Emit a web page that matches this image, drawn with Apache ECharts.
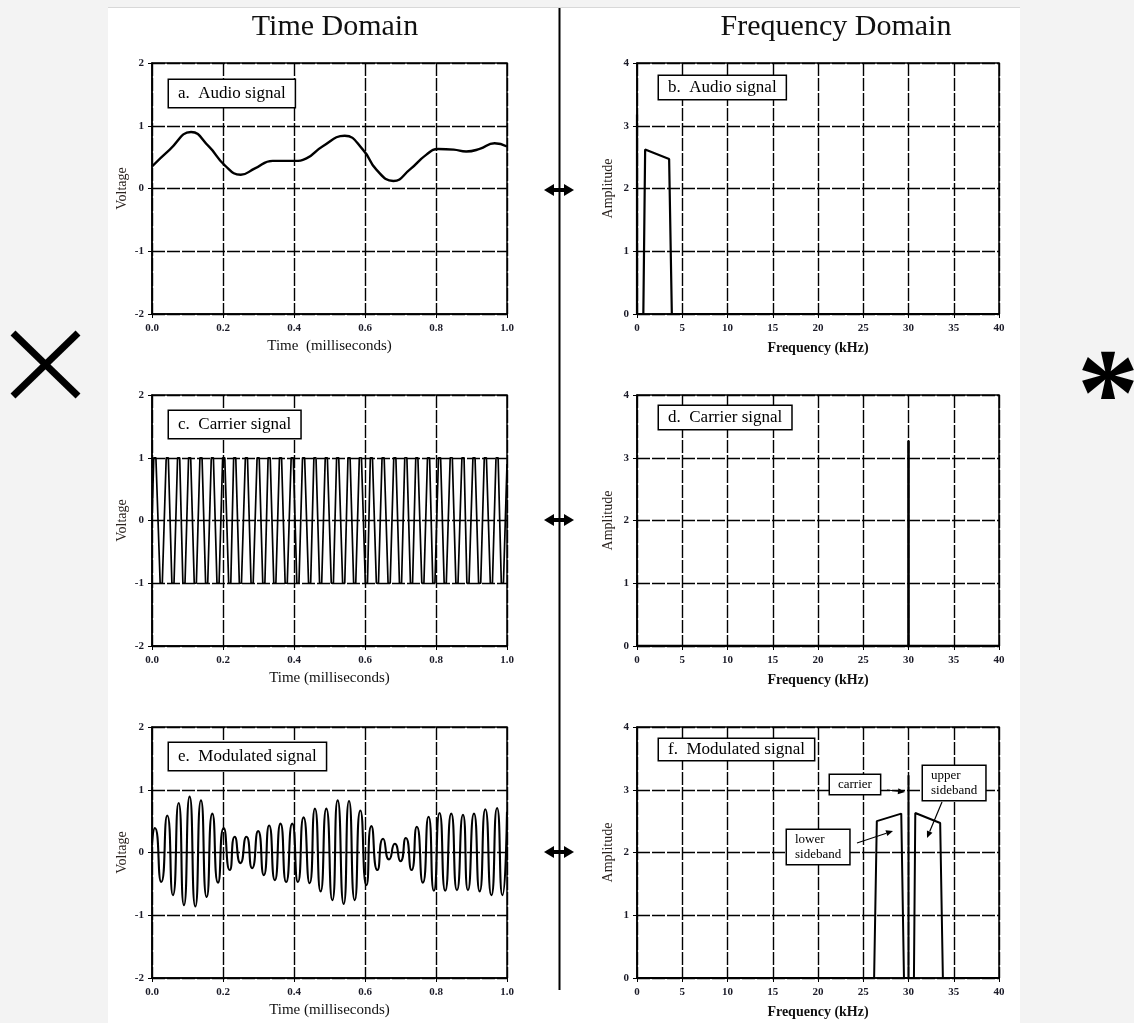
<!DOCTYPE html>
<html>
<head>
<meta charset="utf-8">
<script src="https://cdn.jsdelivr.net/npm/echarts@6/dist/echarts.min.js"></script>
<style>
  html, body { margin: 0; padding: 0; background: #f3f3f3; }
  #panel { position: absolute; left: 108px; top: 7px; width: 912px; height: 1016px; background: #fff; border-top: 1px solid #d8d8d8; }
  #main { position: absolute; left: 0; top: 0; width: 1134px; height: 1023px; }
</style>
</head>
<body>
<div id="panel"></div>
<div id="main"></div>
<script>
const serif = '"Liberation Serif", "Times New Roman", serif';

// a. audio signal, time (ms) / voltage
const audioT = [0, 0.05, 0.11, 0.16, 0.205, 0.25, 0.29, 0.34, 0.40, 0.435, 0.48, 0.543, 0.594, 0.632, 0.68, 0.726, 0.773, 0.806, 0.85, 0.885, 0.923, 0.965, 1.0];
const audioV = [0.35, 0.62, 0.90, 0.67, 0.37, 0.22, 0.32, 0.44, 0.44, 0.48, 0.67, 0.84, 0.62, 0.30, 0.12, 0.30, 0.54, 0.63, 0.62, 0.59, 0.63, 0.72, 0.67];

// c / e. carrier crests and troughs (ms), modulated amplitudes at those points
const peakT = [0.008, 0.043, 0.075, 0.106, 0.138, 0.170, 0.202, 0.233, 0.266, 0.299, 0.330, 0.362, 0.395, 0.427, 0.459, 0.491, 0.523, 0.555, 0.587, 0.618, 0.651, 0.684, 0.715, 0.746, 0.779, 0.810, 0.843, 0.876, 0.907, 0.939, 0.972];
const troughT = [0.026, 0.059, 0.090, 0.122, 0.154, 0.186, 0.219, 0.249, 0.282, 0.315, 0.346, 0.378, 0.411, 0.444, 0.475, 0.508, 0.540, 0.571, 0.604, 0.635, 0.668, 0.700, 0.731, 0.763, 0.794, 0.826, 0.859, 0.890, 0.923, 0.956, 0.987];
const modPeakV = [0.39, 0.59, 0.79, 0.89, 0.83, 0.62, 0.39, 0.25, 0.25, 0.34, 0.43, 0.46, 0.46, 0.56, 0.70, 0.70, 0.83, 0.82, 0.67, 0.42, 0.22, 0.14, 0.23, 0.41, 0.57, 0.63, 0.62, 0.60, 0.62, 0.69, 0.71];
const modTroughV = [-0.47, -0.68, -0.84, -0.86, -0.71, -0.48, -0.28, -0.17, -0.25, -0.36, -0.44, -0.47, -0.47, -0.49, -0.62, -0.76, -0.82, -0.76, -0.52, -0.28, -0.11, -0.14, -0.28, -0.48, -0.61, -0.61, -0.60, -0.60, -0.62, -0.68, -0.68];

// b / d / f. spectra, frequency (kHz) / amplitude
const audioSpecF = [0, 0, 0.7, 0.9, 3.55, 3.85, 40];
const audioSpecA = [3.18, 0, 0, 2.62, 2.47, 0, 0];
const carrierSpecF = [0, 30, 30, 30, 40];
const carrierSpecA = [0, 0, 3.27, 0, 0];
const modSpecF = [0, 26.2, 26.5, 29.2, 29.5, 30, 30, 30, 30.6, 30.75, 33.5, 33.8, 40];
const modSpecA = [0, 0, 2.50, 2.62, 0, 0, 3.23, 0, 0, 2.63, 2.47, 0, 0];

const timeTicks = ['0.0', '0.2', '0.4', '0.6', '0.8', '1.0'];

function zip(xs, ys) {
  return xs.map((x, i) => [x, ys[i]]);
}

function carrierData() {
  let pts = [[0, 0]];
  for (var i = 0; i < peakT.length; i++) {
    pts.push([peakT[i] - 0.003, 1], [peakT[i] + 0.003, 1]);
    pts.push([troughT[i] - 0.003, -1], [troughT[i] + 0.003, -1]);
  }
  pts.push([1.0, 0.9]);
  return pts;
}

function modulatedData() {
  let pts = [[0, 0.15]];
  for (var i = 0; i < peakT.length; i++) {
    pts.push([peakT[i], modPeakV[i]]);
    pts.push([troughT[i], modTroughV[i]]);
  }
  pts.push([1.0, 0.65]);
  return pts;
}

// grids: 0=a 1=b 2=c 3=d 4=e 5=f
const rows = [63, 395, 727];
const grids = [];
for (var r of rows) {
  grids.push({ left: 152, top: r, width: 355, height: 251 });
  grids.push({ left: 637, top: r, width: 362, height: 251 });
}
grids.forEach(g => {
  g.show = true;
  g.borderColor = '#000';
  g.borderWidth = 1.5;
  g.containLabel = false;
  g.outerBoundsMode = 'none';
});

const gridLine = { show: true, lineStyle: { color: '#000', width: 1.4, type: [13, 2] } };
const tickLabel = { fontFamily: serif, fontSize: 11, fontWeight: 'bold', color: '#1b1b28' };

function xAxisFor(i) {
  const isTime = i % 2 == 0;
  let name = isTime ? 'Time (milliseconds)' : 'Frequency (kHz)';
  if (i == 0) name = 'Time  (milliseconds)';
  return {
    type: 'value', gridIndex: i,
    min: 0, max: isTime ? 1 : 40, interval: isTime ? 0.2 : 5,
    name: name, nameLocation: 'middle', nameGap: isTime ? 25 : 27,
    nameTextStyle: { fontFamily: serif, fontSize: isTime ? 15 : 14, fontWeight: isTime ? 'normal' : 'bold', color: '#111' },
    axisLine: { onZero: false, lineStyle: { color: '#000', width: 1.5 } },
    axisTick: { show: true, inside: false, length: 4, lineStyle: { color: '#000' } },
    axisLabel: Object.assign({ margin: 9, showMinLabel: true, showMaxLabel: true,
      formatter: v => isTime ? timeTicks[Math.round(v / 0.2)] : String(v) }, tickLabel),
    splitLine: gridLine
  };
}

function yAxisFor(i) {
  const isTime = i % 2 == 0;
  return {
    type: 'value', gridIndex: i,
    min: isTime ? -2 : 0, max: isTime ? 2 : 4, interval: 1,
    name: isTime ? 'Voltage' : 'Amplitude', nameLocation: 'middle', nameGap: isTime ? 23 : 22,
    nameTextStyle: { fontFamily: serif, fontSize: 14, color: '#2a221e' },
    axisLine: { onZero: false, lineStyle: { color: '#000', width: 1.5 } },
    axisTick: { show: true, inside: false, length: 4, lineStyle: { color: '#000' } },
    axisLabel: Object.assign({ margin: 8, showMinLabel: true, showMaxLabel: true }, tickLabel),
    splitLine: gridLine
  };
}

function lineSeries(i, data, width, smooth) {
  return {
    type: 'line', xAxisIndex: i, yAxisIndex: i, data: data,
    symbol: 'none', showSymbol: false, smooth: smooth || false,
    lineStyle: { color: '#000', width: width }, silent: true, z: 3
  };
}

const series = [
  lineSeries(0, zip(audioT, audioV), 2.4, 0.5),
  lineSeries(1, zip(audioSpecF, audioSpecA), 2.2),
  lineSeries(2, carrierData(), 1.7),
  lineSeries(3, zip(carrierSpecF, carrierSpecA), 2.6),
  lineSeries(4, modulatedData(), 2.1, 0.7),
  lineSeries(5, zip(modSpecF, modSpecA), 2)
];

// panel labels
function labelBox(x, y, text, pad) {
  return {
    type: 'text', z: 100, x: x, y: y,
    style: {
      text: text, font: '17px ' + serif, fill: '#000',
      backgroundColor: '#fff', borderColor: '#000', borderWidth: 1.5,
      padding: pad, align: 'left', verticalAlign: 'top'
    }
  };
}

function noteBox(x, y, text) {
  return {
    type: 'text', z: 100, x: x, y: y,
    style: {
      text: text, font: '13px ' + serif, fill: '#000', lineHeight: 15,
      backgroundColor: '#fff', borderColor: '#000', borderWidth: 1.5,
      padding: [2, 8], align: 'left', verticalAlign: 'top'
    }
  };
}

function arrow(x1, y1, x2, y2, len, half, width) {
  const ang = Math.atan2(y2 - y1, x2 - x1);
  const bx = x2 - len * Math.cos(ang), by = y2 - len * Math.sin(ang);
  const px = -Math.sin(ang) * half, py = Math.cos(ang) * half;
  return [
    { type: 'line', z: 100, shape: { x1: x1, y1: y1, x2: bx, y2: by }, style: { stroke: '#000', lineWidth: width } },
    { type: 'polygon', z: 100, shape: { points: [[x2, y2], [bx + px, by + py], [bx - px, by - py]] }, style: { fill: '#000' } }
  ];
}

function doubleArrow(cy) {
  return [
    { type: 'line', z: 100, shape: { x1: 550, y1: cy, x2: 568, y2: cy }, style: { stroke: '#000', lineWidth: 4 } },
    { type: 'polygon', z: 100, shape: { points: [[544, cy], [554, cy - 6], [554, cy + 6]] }, style: { fill: '#000' } },
    { type: 'polygon', z: 100, shape: { points: [[574, cy], [564, cy - 6], [564, cy + 6]] }, style: { fill: '#000' } }
  ];
}

let graphics = [
  { type: 'line', z: 50, shape: { x1: 559.5, y1: 8, x2: 559.5, y2: 990 }, style: { stroke: '#000', lineWidth: 2 } },
  { type: 'text', z: 100, x: 335, y: 27, style: { text: 'Time Domain', font: '30px ' + serif, fill: '#111', align: 'center', verticalAlign: 'middle' } },
  { type: 'text', z: 100, x: 836, y: 27, style: { text: 'Frequency Domain', font: '30px ' + serif, fill: '#111', align: 'center', verticalAlign: 'middle' } },
  { type: 'line', z: 100, shape: { x1: 13, y1: 333, x2: 78, y2: 396 }, style: { stroke: '#000', lineWidth: 7 } },
  { type: 'line', z: 100, shape: { x1: 78, y1: 333, x2: 13, y2: 396 }, style: { stroke: '#000', lineWidth: 7 } },
  { type: 'text', z: 100, x: 1108, y: 402, style: { text: '*', font: 'bold 124px ' + serif, fill: '#000', align: 'center', verticalAlign: 'middle' } },
  labelBox(169, 80, 'a.  Audio signal', [5, 9]),
  labelBox(659, 76, 'b.  Audio signal', [3, 9]),
  labelBox(169, 411, 'c.  Carrier signal', [5, 9]),
  labelBox(659, 406, 'd.  Carrier signal', [3, 9]),
  labelBox(169, 743, 'e.  Modulated signal', [5, 9]),
  labelBox(659, 739, 'f.  Modulated signal', [2, 9]),
  noteBox(830, 775, 'carrier'),
  noteBox(923, 766, 'upper\nsideband'),
  noteBox(787, 830, 'lower\nsideband')
];
graphics = graphics
  .concat(doubleArrow(190), doubleArrow(520), doubleArrow(852))
  .concat(arrow(887, 790, 905, 792, 7, 3, 1.2))
  .concat(arrow(942, 802, 927, 838, 7, 3, 1.2))
  .concat(arrow(857, 843, 893, 831, 7, 3, 1.2));

const chart = echarts.init(document.getElementById('main'), null, { renderer: 'canvas' });
chart.setOption({
  animation: false,
  backgroundColor: 'transparent',
  grid: grids,
  xAxis: grids.map((g, i) => xAxisFor(i)),
  yAxis: grids.map((g, i) => yAxisFor(i)),
  series: series,
  graphic: graphics
});
</script>
</body>
</html>
